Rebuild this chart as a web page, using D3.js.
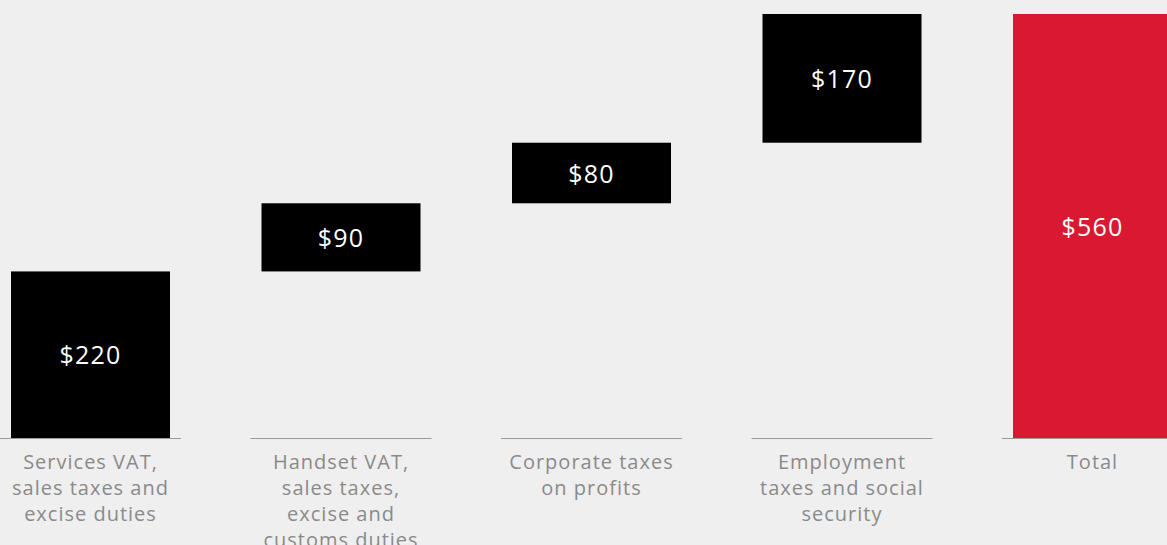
<!DOCTYPE html>
<html>
<head>
<meta charset="utf-8">
<script src="https://cdn.jsdelivr.net/npm/d3@7"></script>
<style>
  html, body { margin: 0; padding: 0; background: #efefef; }
  svg { display: block; }
  .cat { font-family: "Open Sans", sans-serif; font-size: 20px; letter-spacing: 1px; fill: #8a8a8a; }
  .val { font-family: "Open Sans", sans-serif; font-size: 25px; letter-spacing: 1.2px; fill: #ffffff; }
</style>
</head>
<body>
<svg id="chart" width="1167" height="545"></svg>
<script>
// categories and values (tax contributions)
const categories = [
  ["Services VAT,", "sales taxes and", "excise duties"],
  ["Handset VAT,", "sales taxes,", "excise and", "customs duties"],
  ["Corporate taxes", "on profits"],
  ["Employment", "taxes and social", "security"],
  ["Total"]
];
const values = [220, 90, 80, 170];
const totalValue = 560;
const valueLabels = ["$220", "$90", "$80", "$170", "$560"];

const width = 1167, height = 545;
const svg = d3.select("#chart");

// build waterfall steps
let running = 0;
let steps = values.map(function(v, i) {
    let s = {i: i, start: running, end: running + v, total: false};
    running += v;
    return s;
});
steps.push({i: 4, start: 0, end: totalValue, total: true});

// step 250.5, band (axis segment) 181
let x = d3.scaleBand()
    .domain(d3.range(5))
    .range([0, 1183])
    .paddingInner(69.5 / 250.5)
    .paddingOuter(0);

let y = d3.scaleLinear()
    .domain([0, 560])
    .range([438, 14]);

let barW = 159;

// axis segments under each bar
svg.selectAll(".seg")
    .data(steps)
    .enter().append("line")
    .attr("x1", function(d) { return x(d.i); })
    .attr("x2", function(d) { return x(d.i) + x.bandwidth(); })
    .attr("y1", y(0) + 0.5)
    .attr("y2", y(0) + 0.5)
    .attr("stroke", "#9a9a9a")
    .attr("stroke-width", 1.2);

svg.selectAll(".bar")
    .data(steps)
    .enter().append("rect")
    .attr("x", function(d) { return x(d.i) + (x.bandwidth() - barW) / 2; })
    .attr("width", barW)
    .attr("y", function(d) { return y(d.end); })
    .attr("height", function(d) { return y(d.start) - y(d.end); })
    .attr("fill", function(d) { return d.total ? "#d91831" : "#000000"; });

svg.selectAll(".val")
    .data(steps)
    .enter().append("text")
    .attr("class", "val")
    .attr("x", function(d) { return x(d.i) + x.bandwidth() / 2; })
    .attr("y", function(d) { return (y(d.start) + y(d.end)) / 2 + 1; })
    .attr("dy", "0.35em")
    .attr("text-anchor", "middle")
    .text(function(d, i) { return valueLabels[i]; });

// category labels, multi line
let cat = svg.selectAll(".cat")
    .data(categories)
    .enter().append("text")
    .attr("class", "cat")
    .attr("text-anchor", "middle")
    .attr("transform", function(d, i) { return "translate(" + (x(i) + x.bandwidth() / 2) + ",469)"; });

cat.selectAll("tspan")
    .data(function(d) { return d; })
    .enter().append("tspan")
    .attr("x", 0)
    .attr("y", function(d, j) { return j * 26; })
    .text(function(d) { return d; });
</script>
</body>
</html>
